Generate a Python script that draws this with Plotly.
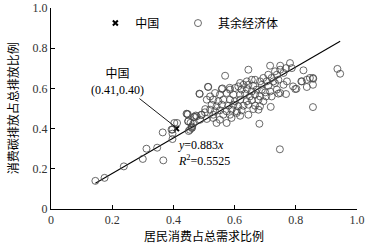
import plotly.graph_objects as go

# Other economies (x: household consumption share of total demand, y: consumption carbon share)
other_x = [
    0.145, 0.175, 0.238, 0.300, 0.312, 0.347, 0.367, 0.365, 0.397, 0.397, 0.397, 0.403,
    0.394, 0.412, 0.450, 0.461, 0.456, 0.447, 0.473, 0.491, 0.504, 0.486, 0.513, 0.560,
    0.584, 0.445, 0.448, 0.460, 0.454, 0.470,
    0.716, 0.749, 0.781, 0.768, 0.787, 0.645, 0.732, 0.749, 0.569, 0.667, 0.710, 0.738,
    0.760, 0.825, 0.721, 0.694, 0.618, 0.640, 0.656, 0.683, 0.705, 0.727, 0.743, 0.771,
    0.820, 0.836, 0.856, 0.612, 0.629, 0.645, 0.661, 0.689, 0.710, 0.732, 0.760, 0.798,
    0.836, 0.856, 0.514, 0.558, 0.585, 0.601, 0.623, 0.640, 0.656, 0.672, 0.689, 0.700,
    0.716, 0.738, 0.749, 0.536, 0.552, 0.574, 0.596, 0.618, 0.634, 0.650, 0.667, 0.683,
    0.703, 0.721, 0.743, 0.768, 0.485, 0.520, 0.509, 0.530, 0.547, 0.563, 0.585, 0.601,
    0.618, 0.640, 0.656, 0.678, 0.694, 0.525, 0.541, 0.558, 0.580, 0.596, 0.612, 0.629,
    0.645, 0.667, 0.683, 0.718, 0.856, 0.520, 0.536, 0.552, 0.574, 0.590, 0.607, 0.623,
    0.661, 0.678, 0.503, 0.530, 0.563, 0.585, 0.607, 0.618, 0.645, 0.443, 0.467, 0.476,
    0.492, 0.449, 0.465, 0.487, 0.509, 0.530, 0.552, 0.590, 0.541, 0.574, 0.460, 0.681,
    0.936, 0.945, 0.748, 0.846, 0.857, 0.818, 0.791, 0.802,
]
other_y = [
    0.140, 0.155, 0.212, 0.249, 0.300, 0.305, 0.242, 0.381, 0.395, 0.375, 0.348, 0.428,
    0.395, 0.428, 0.388, 0.405, 0.429, 0.471, 0.465, 0.468, 0.497, 0.572, 0.608, 0.600,
    0.603, 0.473, 0.436, 0.411, 0.394, 0.458,
    0.713, 0.713, 0.726, 0.701, 0.701, 0.693, 0.685, 0.693, 0.663, 0.643, 0.668, 0.668,
    0.677, 0.690, 0.652, 0.652, 0.627, 0.635, 0.643, 0.635, 0.635, 0.635, 0.643, 0.635,
    0.635, 0.643, 0.652, 0.610, 0.618, 0.618, 0.613, 0.618, 0.613, 0.627, 0.618, 0.597,
    0.607, 0.618, 0.607, 0.597, 0.594, 0.602, 0.594, 0.597, 0.585, 0.594, 0.594, 0.580,
    0.585, 0.594, 0.577, 0.577, 0.569, 0.577, 0.569, 0.569, 0.574, 0.560, 0.569, 0.560,
    0.560, 0.560, 0.574, 0.572, 0.574, 0.560, 0.544, 0.544, 0.536, 0.544, 0.544, 0.536,
    0.544, 0.536, 0.541, 0.544, 0.536, 0.519, 0.511, 0.519, 0.514, 0.519, 0.511, 0.514,
    0.519, 0.514, 0.511, 0.508, 0.507, 0.494, 0.486, 0.491, 0.486, 0.494, 0.486, 0.491,
    0.497, 0.494, 0.481, 0.469, 0.469, 0.469, 0.478, 0.464, 0.469, 0.474, 0.458, 0.461,
    0.469, 0.436, 0.424, 0.444, 0.448, 0.453, 0.444, 0.453, 0.428, 0.428, 0.403, 0.424,
    0.697, 0.673, 0.297, 0.652, 0.648, 0.635, 0.610, 0.598,
]

china_x = [0.41]
china_y = [0.40]

slope = 0.883
r2 = 0.5525
fit_x = [0.145, 0.945]
fit_y = [slope * v for v in fit_x]

tick_vals = [0, 0.2, 0.4, 0.6, 0.8, 1.0]
tick_text = ["0", "0.2", "0.4", "0.6", "0.8", "1.0"]

FONT = "Liberation Serif, Times New Roman, Noto Sans CJK SC, serif"

fig = go.Figure()
fig.add_trace(go.Scatter(
    x=fit_x, y=fit_y, mode="lines", showlegend=False,
    line=dict(color="black", width=1.1), hoverinfo="skip"))
fig.add_trace(go.Scatter(
    x=china_x, y=china_y, mode="markers", name="中国", legend="legend",
    marker=dict(symbol="x-thin", size=5, line=dict(color="black", width=2))))
fig.add_trace(go.Scatter(
    x=other_x, y=other_y, mode="markers", name="其余经济体", legend="legend2",
    marker=dict(symbol="circle-open", size=7, color="#444444", line=dict(width=0.8))))

fig.add_annotation(
    x=0.405, y=0.41, xref="x", yref="y",
    text="中国<br>(0.41,0.40)", showarrow=True, arrowhead=0, arrowwidth=0.9,
    arrowcolor="black", ax=-57, ay=-45, font=dict(family=FONT, size=12, color="black"))
fig.add_annotation(
    x=0.41, y=0.28, xref="x", yref="y", xanchor="left", yanchor="middle", align="left",
    text="<i>y</i>=%.3f<i>x</i><br><i>R</i><sup>2</sup>=%.4f" % (slope, r2), showarrow=False,
    font=dict(family=FONT, size=12, color="black"))

# axis titles
fig.add_annotation(
    x=0.5, y=-0.139, xref="paper", yref="paper", xanchor="center", yanchor="middle",
    text="居民消费占总需求比例", showarrow=False, font=dict(family=FONT, size=12, color="black"))
fig.add_annotation(
    x=-0.122, y=0.5, xref="paper", yref="paper", xanchor="center", yanchor="middle",
    text="消费碳排放占总排放比例", textangle=-90, showarrow=False,
    font=dict(family=FONT, size=12, color="black"))

axis_common = dict(
    range=[0, 1], tickvals=tick_vals, ticktext=tick_text, showgrid=False, zeroline=False,
    showline=True, linecolor="black", linewidth=1, ticks="inside", ticklen=4,
    tickcolor="black", tickfont=dict(family=FONT, size=12, color="#333"), automargin=False)

legend_common = dict(orientation="h", xanchor="left", yanchor="middle",
                     bgcolor="rgba(0,0,0,0)", itemwidth=30,
                     font=dict(family=FONT, size=12, color="black"))

fig.update_layout(
    width=386, height=247, margin=dict(l=51, r=29, t=8, b=38, autoexpand=False),
    paper_bgcolor="white", plot_bgcolor="white",
    font=dict(family=FONT, size=12, color="black"),
    legend=dict(x=0.145, y=0.925, **legend_common),
    legend2=dict(x=0.415, y=0.925, **legend_common),
    xaxis=dict(**axis_common),
    yaxis=dict(**axis_common),
)

fig.write_html("out.html", config={"displayModeBar": False},
               post_script="document.body.style.margin='0';document.body.style.overflow='hidden';")
